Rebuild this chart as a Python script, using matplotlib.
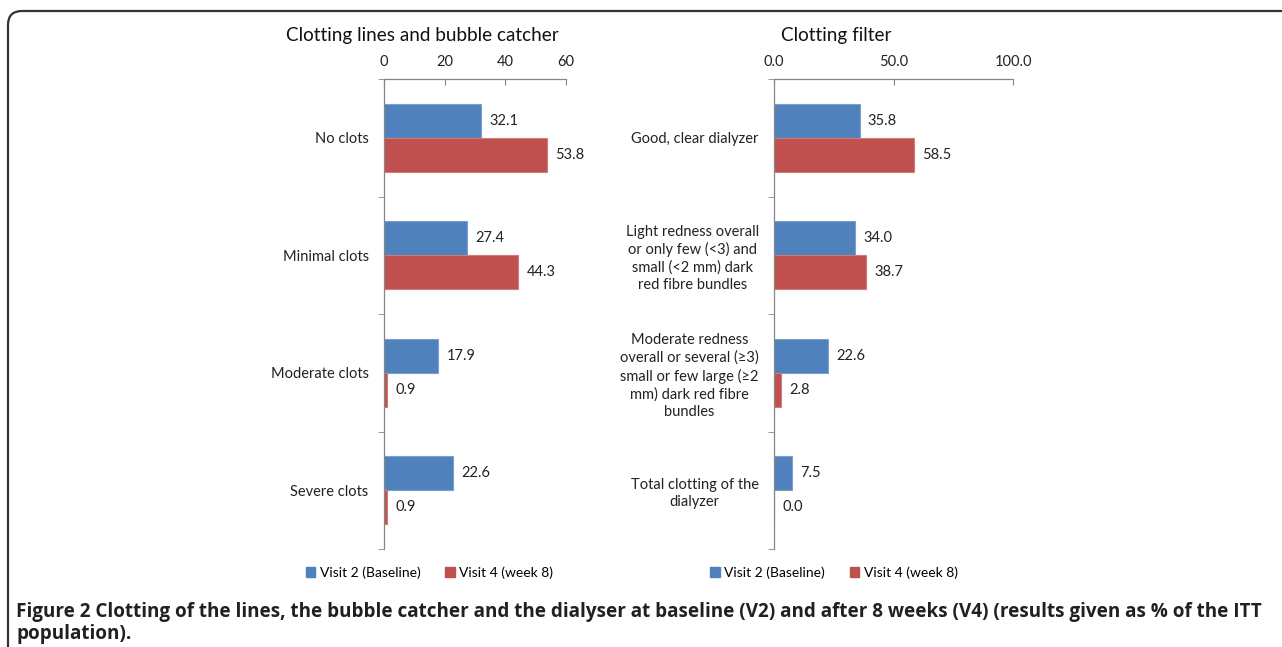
import numpy as np
import matplotlib
matplotlib.use('Agg')
import matplotlib.pyplot as plt
from matplotlib.patches import FancyBboxPatch, Patch

# data (% of ITT population)
lines_cats = ['No clots', 'Minimal clots', 'Moderate clots', 'Severe clots']
lines_v2 = [32.1, 27.4, 17.9, 22.6]
lines_v4 = [53.8, 44.3, 0.9, 0.9]

filter_cats = ['Good, clear dialyzer',
               'Light redness overall\nor only few (<3) and\nsmall (<2 mm) dark\nred fibre bundles',
               'Moderate redness\noverall or several (\u22653)\nsmall or few large (\u22652\nmm) dark red fibre\nbundles',
               'Total clotting of the\ndialyzer']
filter_v2 = [35.8, 34.0, 22.6, 7.5]
filter_v4 = [58.5, 38.7, 2.8, 0.0]

series_names = ['Visit 2 (Baseline)', 'Visit 4 (week 8)']
blue = '#4F81BD'
red = '#C0504D'
axcol = '#868686'
plt.rcParams['font.family'] = ['Lato', 'DejaVu Sans']

W, H = 1282, 647
fig = plt.figure(figsize=(W/100, H/100), dpi=100)

def px(x0, x1, ytop, ybot):
    return [x0/W, 1-ybot/H, (x1-x0)/W, (ybot-ytop)/H]

def panel(rect, cats, v2, v4, xmax, xticks, xticklabels, title, title_x):
    ax = fig.add_axes(rect)
    y = np.arange(len(cats))
    h = 0.29
    b1 = ax.barh(y - h/2, v2, height=h, color=blue, edgecolor='#7C9FCF', lw=0.8)
    b2 = ax.barh(y + h/2, v4, height=h, color=red, edgecolor='#D07C7A', lw=0.8)
    ax.bar_label(b1, labels=['%.1f' % v for v in v2], padding=6, fontsize=10.5, color='#222222')
    ax.bar_label(b2, labels=['%.1f' % v for v in v4], padding=6, fontsize=10.5, color='#222222')
    ax.set_xlim(0, xmax)
    ax.set_ylim(len(cats)-0.5, -0.5)
    ax.xaxis.tick_top()
    ax.set_xticks(xticks)
    ax.set_xticklabels(xticklabels)
    ax.tick_params(axis='x', direction='in', length=4, color=axcol, pad=7, labelsize=10.5, labelcolor='#222222')
    ax.set_yticks(y)
    ax.set_yticklabels(cats, multialignment='center', linespacing=1.3)
    ax.set_yticks(np.arange(len(cats)+1) - 0.5, minor=True)
    ax.tick_params(axis='y', which='major', length=0, pad=11, labelsize=10.5, labelcolor='#222222')
    ax.tick_params(axis='y', which='minor', direction='out', length=4, color=axcol)
    for s in ['bottom', 'right']:
        ax.spines[s].set_visible(False)
    for s in ['top', 'left']:
        ax.spines[s].set_color(axcol)
        ax.spines[s].set_linewidth(0.9)
    ax.patch.set_visible(False)
    handles = [Patch(color=blue), Patch(color=red)]
    ax.legend(handles, series_names, loc='center', bbox_to_anchor=(0.25, -0.05), ncol=2,
              frameon=False, handlelength=0.7, handleheight=0.7, handletextpad=0.3,
              columnspacing=1.8, fontsize=10)
    fig.text(title_x/W, 1-35/H, title, ha='center', va='center', fontsize=13.6, color='#111111')
    return ax

panel(px(384, 566, 79, 549), lines_cats, lines_v2, lines_v4, 60,
      [0, 20, 40, 60], ['0', '20', '40', '60'], 'Clotting lines and bubble catcher', 422)
panel(px(774, 1013, 79, 549), filter_cats, filter_v2, filter_v4, 100,
      [0, 50, 100], ['0.0', '50.0', '100.0'], 'Clotting filter', 836)

# rounded frame around the figure panel
frame = FancyBboxPatch((8, -200), 1500, H-11+200, boxstyle='round,pad=0,rounding_size=14',
                       transform=None, fill=False, ec='#333333', lw=1.6, clip_on=False)
fig.add_artist(frame)

caption1 = ('Figure 2 Clotting of the lines, the bubble catcher and the dialyser at baseline (V2) '
            'and after 8 weeks (V4) (results given as % of the ITT')
caption2 = 'population).'
fig.text(16/W, 1-612/H, caption1, ha='left', va='center', fontsize=13.6, fontweight='bold',
         family=['Open Sans', 'DejaVu Sans'], color='#231F20')
fig.text(16/W, 1-634/H, caption2, ha='left', va='center', fontsize=13.6, fontweight='bold',
         family=['Open Sans', 'DejaVu Sans'], color='#231F20')

fig.savefig('out.png', dpi=100)
